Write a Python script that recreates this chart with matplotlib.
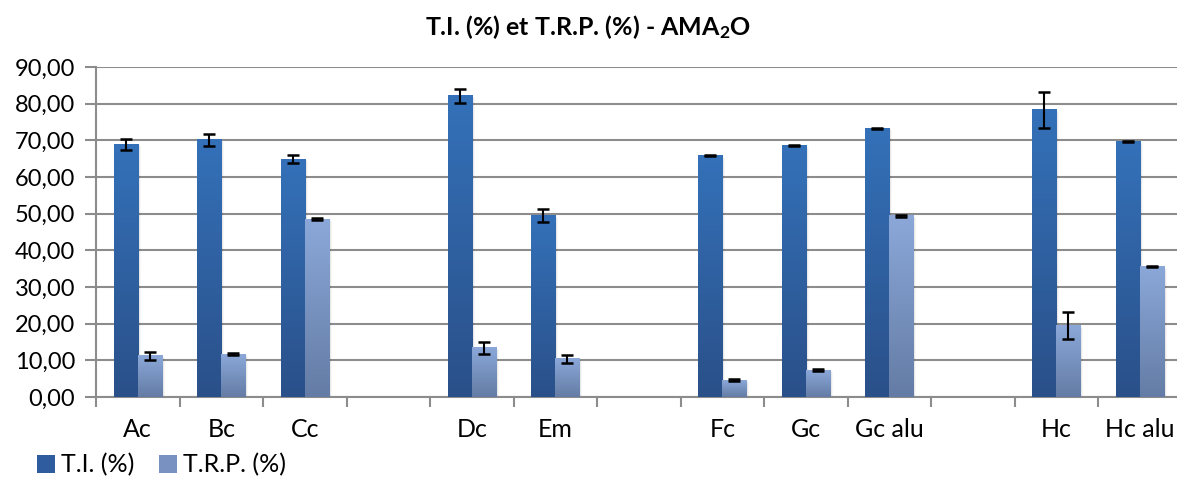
import numpy as np
import matplotlib
matplotlib.use("Agg")
import matplotlib.pyplot as plt
from matplotlib.colors import LinearSegmentedColormap
from matplotlib.patches import Rectangle

plt.rcParams['font.family'] = ['Lato', 'DejaVu Sans']
plt.rcParams['mathtext.fontset'] = 'custom'
plt.rcParams['mathtext.rm'] = 'Lato'
plt.rcParams['mathtext.bf'] = 'Lato:bold'

# data (empty strings are the blank slots of the chart)
categories = ['Ac', 'Bc', 'Cc', '', 'Dc', 'Em', '', 'Fc', 'Gc', 'Gc alu', '', 'Hc', 'Hc alu']
ti = [69.0, 70.1, 64.9, np.nan, 82.1, 49.4, np.nan, 65.9, 68.6, 73.3, np.nan, 78.3, 69.6]
ti_err = [1.5, 1.7, 1.0, np.nan, 1.9, 1.8, np.nan, 0.2, 0.2, 0.2, np.nan, 5.0, 0.1]
trp = [11.2, 11.7, 48.5, np.nan, 13.4, 10.4, np.nan, 4.6, 7.3, 49.4, np.nan, 19.5, 35.6]
trp_err = [1.2, 0.3, 0.2, np.nan, 1.6, 1.0, np.nan, 0.2, 0.3, 0.2, np.nan, 3.6, 0.1]

W, H = 1177, 478
fig = plt.figure(figsize=(W / 100, H / 100), dpi=100)
x0, x1, y0, y1 = 96, 1181.5, 397, 67
ax = fig.add_axes([x0 / W, 1 - y0 / H, (x1 - x0) / W, (y0 - y1) / H])

x = np.arange(len(categories))
bw = 0.29

ti_cmap = LinearSegmentedColormap.from_list('ti', ['#2a5089', '#3471b9'])
trp_cmap = LinearSegmentedColormap.from_list('trp', ['#647ca5', '#8ba8d9'])


def grad_bars(xs, vals, cmap):
    grad = np.linspace(0, 1, 256).reshape(-1, 1)
    for xc, v in zip(xs, vals):
        if np.isnan(v):
            continue
        # soft shadow
        for k, a in enumerate([0.10, 0.06, 0.03]):
            d = 0.012 * (k + 1)
            ax.add_patch(Rectangle((xc - bw / 2 + d, -0.4 - k * 0.3), bw, v + 0.4,
                                   facecolor='#000000', alpha=a, lw=0, zorder=2))
        ax.imshow(grad, cmap=cmap, origin='lower', aspect='auto',
                  extent=(xc - bw / 2, xc + bw / 2, 0, v), zorder=3,
                  interpolation='bicubic')


grad_bars(x - bw / 2, ti, ti_cmap)
grad_bars(x + bw / 2, trp, trp_cmap)

ax.errorbar(x - bw / 2, ti, yerr=ti_err, fmt='none', ecolor='black',
            elinewidth=1.5, capsize=4.5, capthick=1.8, zorder=5)
ax.errorbar(x + bw / 2, trp, yerr=trp_err, fmt='none', ecolor='black',
            elinewidth=1.5, capsize=4.5, capthick=1.8, zorder=5)

ax.set_xlim(-0.5, len(categories) - 0.5)
ax.set_ylim(0, 90)
ax.set_yticks(np.arange(0, 91, 10))
ax.set_yticklabels([f'{v:.2f}'.replace('.', ',') for v in range(0, 91, 10)], fontsize=17)
ax.yaxis.grid(True, color='#8c8c8c', lw=1.5)
ax.set_axisbelow(True)

ax.set_xticks(np.arange(-0.5, len(categories), 1))
ax.set_xticklabels([])
ax.set_xticks(x, minor=True)
ax.set_xticklabels(categories, minor=True, fontsize=18)
ax.tick_params(axis='x', which='minor', length=0, pad=15)
ax.tick_params(axis='x', which='major', length=7, width=1.5, color='#8c8c8c', direction='out')
ax.tick_params(axis='y', length=8, width=1.5, color='#8c8c8c', pad=7)

for s in ['top', 'right']:
    ax.spines[s].set_visible(False)
for s in ['left', 'bottom']:
    ax.spines[s].set_color('#8c8c8c')
    ax.spines[s].set_linewidth(1.5)

fig.text(0.5, 1 - 27 / H, r'T.I. (%) et T.R.P. (%) - AMA$\mathbf{_2}$O', ha='center', va='center',
         fontsize=18, fontweight='bold')

# legend
handles = [Rectangle((0, 0), 1, 1, facecolor='#2e5c9e'), Rectangle((0, 0), 1, 1, facecolor='#7891c0')]
fig.legend(handles, ['T.I. (%)', 'T.R.P. (%)'], loc='center left', bbox_to_anchor=(37 / W, 1 - 465 / H),
           ncol=2, frameon=False, fontsize=18, handlelength=0.7, handleheight=0.7,
           handletextpad=0.25, columnspacing=1.0, borderaxespad=0, borderpad=0)

fig.savefig('out.png', dpi=100)
